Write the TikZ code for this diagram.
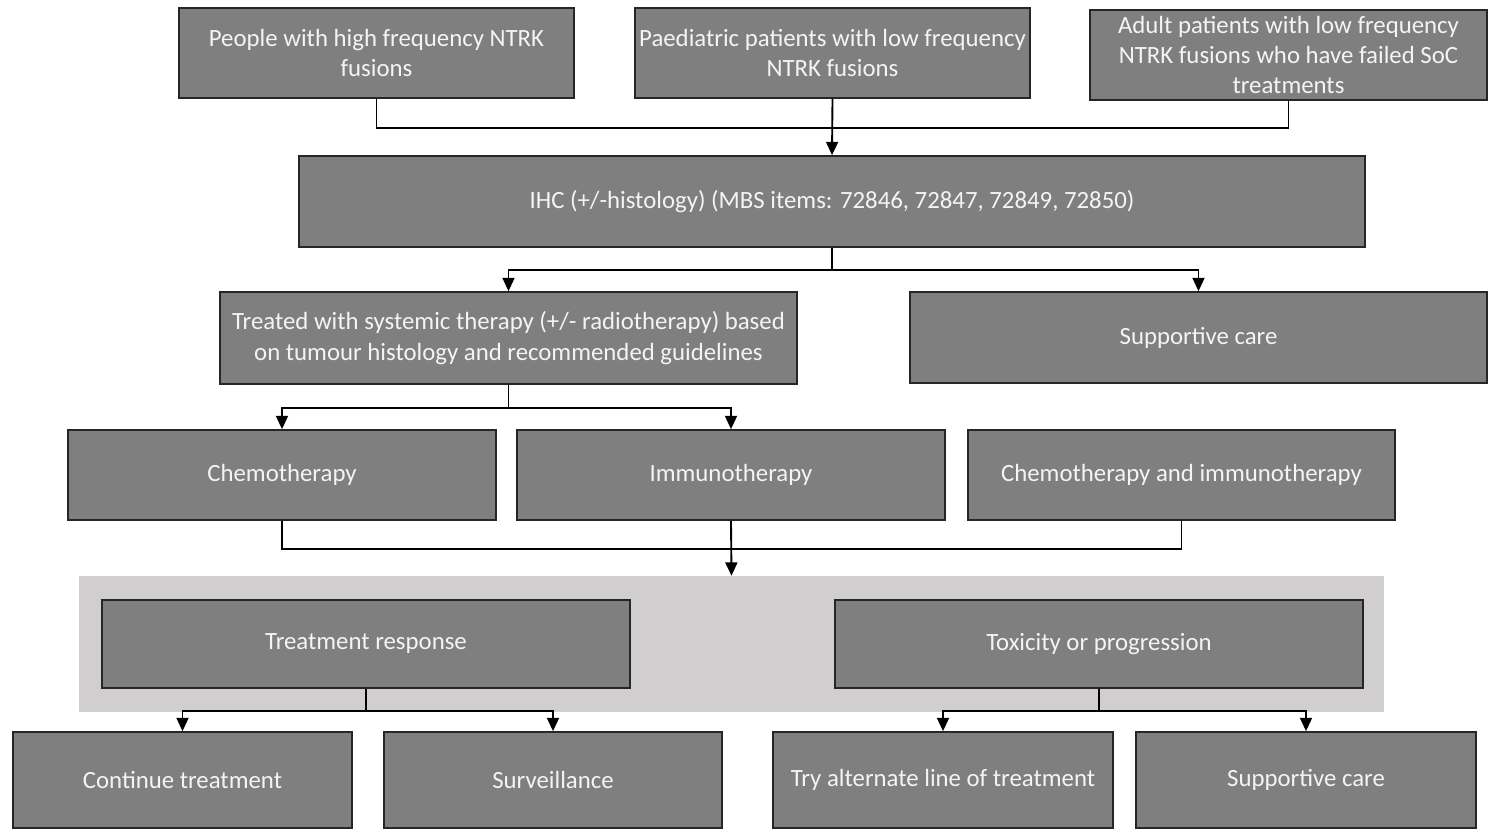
\documentclass[tikz,border=0pt]{standalone}
\usepackage{fontspec}
\setmainfont{Carlito}
\usetikzlibrary{arrows.meta}
\definecolor{boxgray}{HTML}{7F7F7F}
\definecolor{boxedge}{HTML}{262626}
\definecolor{panelgray}{HTML}{D0CECE}
\definecolor{txt}{HTML}{F4F4F4}
\begin{document}
\begin{tikzpicture}[x=0.75pt,y=-0.75pt,
  box/.style={draw=boxedge, fill=boxgray, line width=1.3pt, text=txt, align=center,
    inner sep=0pt, font=\fontsize{18.6}{22.6}\selectfont},
  conn/.style={draw=black, line width=1.4pt},
  arr/.style={conn, -{Triangle[length=10pt,width=9pt]}}]
\useasboundingbox (0,0) rectangle (1490,833);
% background panel
\node[fill=panelgray, draw=none, minimum width={1305*0.75pt}, minimum height={136*0.75pt}, inner sep=0pt] (panel) at (731.5,644) {};
% top row
\node[box, minimum width={395*0.75pt}, minimum height={90*0.75pt}] (p1) at (376.5,53) {People with high frequency NTRK\\fusions};
\node[box, minimum width={395*0.75pt}, minimum height={90*0.75pt}] (p2) at (832.5,53) {Paediatric patients with low frequency\\NTRK fusions};
\node[box, minimum width={397*0.75pt}, minimum height={90*0.75pt}] (p3) at (1288.5,55) {Adult patients with low frequency\\NTRK fusions who have failed SoC\\treatments};
% IHC
\node[box, minimum width={1066*0.75pt}, minimum height={91*0.75pt}] (ihc) at (832,201.5) {IHC (+/-histology) (MBS items: 72846, 72847, 72849, 72850)};
% second row
\node[box, minimum width={577*0.75pt}, minimum height={92*0.75pt}] (treated) at (508.5,338) {Treated with systemic therapy (+/- radiotherapy) based\\on tumour histology and recommended guidelines};
\node[box, minimum width={577*0.75pt}, minimum height={91*0.75pt}] (supp1) at (1198.5,337.5) {Supportive care};
% third row
\node[box, minimum width={428*0.75pt}, minimum height={90*0.75pt}] (chemo) at (282,475) {Chemotherapy};
\node[box, minimum width={428*0.75pt}, minimum height={90*0.75pt}] (immuno) at (731,475) {Immunotherapy};
\node[box, minimum width={427*0.75pt}, minimum height={90*0.75pt}] (chemoimm) at (1181.5,475) {Chemotherapy and immunotherapy};
% panel row
\node[box, minimum width={528*0.75pt}, minimum height={88*0.75pt}] (resp) at (366,644) {Treatment response};
\node[box, minimum width={528*0.75pt}, minimum height={88*0.75pt}] (tox) at (1099,644) {Toxicity or progression};
% bottom row
\node[box, minimum width={339*0.75pt}, minimum height={96*0.75pt}] (cont) at (182.5,780) {Continue treatment};
\node[box, minimum width={338*0.75pt}, minimum height={96*0.75pt}] (surv) at (553,780) {Surveillance};
\node[box, minimum width={340*0.75pt}, minimum height={96*0.75pt}] (alt) at (943,780) {Try alternate line of treatment};
\node[box, minimum width={340*0.75pt}, minimum height={96*0.75pt}] (supp2) at (1306,780) {Supportive care};
% connectors
\draw[conn] (p1.south) -- ++(0,29) -| (p3.south);
\draw[arr] (p2.south) -- (ihc.north);
\draw[arr] (ihc.south) -- ++(0,22) -| (treated.north);
\draw[arr] (ihc.south) -- ++(0,22) -| (supp1.north);
\draw[arr] (treated.south) -- ++(0,23) -| (chemo.north);
\draw[arr] (treated.south) -- ++(0,23) -| (immuno.north);
\draw[conn] (chemo.south) -- ++(0,28) -| (chemoimm.south);
\draw[arr] (immuno.south) -- (panel.north);
\draw[arr] (resp.south) -- ++(0,22) -| (cont.north);
\draw[arr] (resp.south) -- ++(0,22) -| (surv.north);
\draw[arr] (tox.south) -- ++(0,22) -| (alt.north);
\draw[arr] (tox.south) -- ++(0,22) -| (supp2.north);
\end{tikzpicture}
\end{document}
